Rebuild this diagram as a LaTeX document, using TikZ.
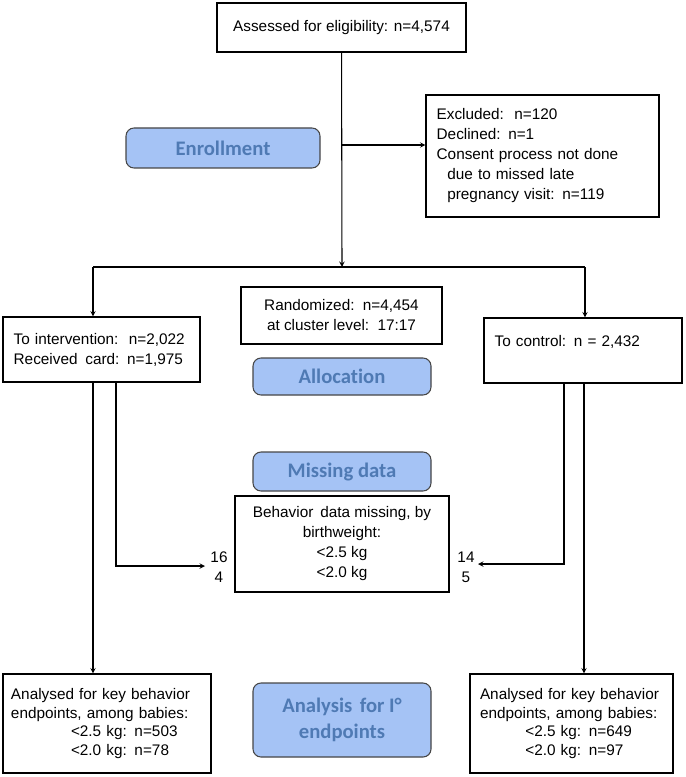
\documentclass[tikz,border=0pt]{standalone}
\usepackage{fontspec}
\setmainfont{Liberation Sans}
\newfontfamily\headfont[Ligatures={NoCommon}]{Carlito}
\usetikzlibrary{positioning}

\definecolor{phasefill}{RGB}{165,195,245}
\definecolor{phasetext}{RGB}{79,122,180}
\definecolor{phaseline}{RGB}{70,70,70}

\begin{document}
\begin{tikzpicture}[x=0.75pt, y=-0.75pt,
    box/.style={draw, line width=0.8pt, inner sep=0pt, font=\fontsize{11.5}{15}\selectfont},
    lbox/.style={box, align=left, inner xsep=8pt},
    cbox/.style={box, align=center},
    phase/.style={draw=phaseline, line width=0.8pt, fill=phasefill, rounded corners=6pt,
      minimum width=133.5pt, align=center, text=phasetext,
      font=\headfont\bfseries\fontsize{15.5}{19}\selectfont},
    flow/.style={->, >=stealth, line width=0.8pt}]
  \useasboundingbox (0,0) rectangle (685,777);

  % boxes
  \node[cbox, minimum width=186.75pt, minimum height=36.75pt] (assess) at (341.5,27.5) {Assessed for eligibility: n=4,574};
  \node[lbox, text width=158.75pt, minimum height=91.5pt] (excl) at (542.5,156)
    {Excluded:\hspace{2pt} n=120\\ Declined: n=1\\ Consent process not done\\ \hspace*{8pt}due to missed late\\ \hspace*{8pt}pregnancy visit: n=119};
  \node[cbox, minimum width=150.75pt, minimum height=42.75pt] (rand) at (341.5,315.5) {Randomized:\hspace{2pt} n=4,454\\ at cluster level:\hspace{2pt} 17:17};
  \node[lbox, text width=131.75pt, minimum height=48.75pt] (interv) at (101.5,349.5) {To intervention:\hspace{2pt} n=2,022\\ Received\hspace{2pt} card: n=1,975};
  \node[lbox, text width=132.5pt, minimum height=48.75pt] (ctrl) at (583,350.5) {To control: n = 2,432\\ \mbox{}};
  \node[cbox, minimum width=160.5pt, minimum height=72pt] (behav) at (342,544) {Behavior\hspace{2pt} data missing, by\\ birthweight:\\ <2.5 kg\\ <2.0 kg};
  \node[lbox, inner xsep=6pt, text width=144pt, minimum height=74.25pt, font=\fontsize{11.5}{13.8}\selectfont] (analL) at (107,723.5)
    {Analysed for key behavior\\ endpoints, among babies:\\ \hspace*{45pt}<2.5 kg: n=503\\ \hspace*{45pt}<2.0 kg: n=78};
  \node[lbox, inner xsep=7.5pt, text width=137.25pt, minimum height=74.25pt, font=\fontsize{11.5}{13.8}\selectfont] (analR) at (571.5,723.5)
    {Analysed for key behavior\\ endpoints, among babies:\\ \hspace*{34pt}<2.5 kg: n=649\\ \hspace*{34pt}<2.0 kg: n=97};

  % phases
  \node[phase, minimum width=145.5pt, minimum height=30pt] (enrol) at (223,148) {Enrollment};
  \node[phase, minimum height=27.75pt] (alloc) at (342,376.5) {Allocation};
  \node[phase, minimum height=29.25pt] (miss) at (342,471.5) {Missing data};
  \node[phase, minimum height=55.5pt] (analy) at (342,720) {Analysis\hspace{2pt} for I°\\ endpoints};

  % counts beside the missing data box
  \node[align=center, font=\fontsize{11.5}{15}\selectfont] (cntL) at (219,567) {16\\ 4};
  \node[align=center, font=\fontsize{11.5}{15}\selectfont] (cntR) at (466,567) {14\\ 5};

  % connector points
  \coordinate (split) at (342,267);
  \coordinate (exb) at (342,145);
  \coordinate (brL) at (93,267);
  \coordinate (brR) at (585,267);
  \coordinate (lo) at (93,382);
  \coordinate (li) at (116,382);
  \coordinate (ro) at (584,383);
  \coordinate (ri) at (564,383);
  \coordinate (miL) at (205,566);
  \coordinate (miR) at (478,564);

  \draw[flow] (assess) -- (split);
  \draw[flow] (exb) -- (exb -| excl.west);
  \draw[line width=0.8pt] (brL) -- (brR);
  \foreach \from/\to in {brL/interv, brR/ctrl, lo/analL, ro/analR}
    \draw[flow] (\from) -- (\from |- \to.north);
  \draw[flow] (li) |- (miL);
  \draw[flow] (ri) |- (miR);
\end{tikzpicture}
\end{document}
